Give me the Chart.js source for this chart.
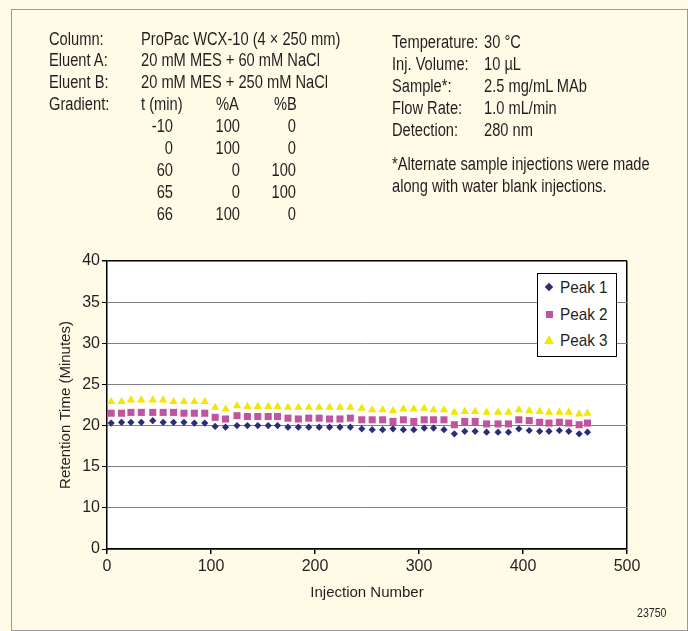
<!DOCTYPE html>
<html>
<head>
<meta charset="utf-8">
<script src="https://cdn.jsdelivr.net/npm/chart.js@4/dist/chart.umd.min.js"></script>
<style>
	body { margin: 0; background: #fffbe6; }
	#page { position: relative; width: 688px; height: 631px; overflow: hidden; font-family: 'Liberation Sans', Arial, sans-serif; color: #231f20; }
	#frame { position: absolute; left: 11px; top: 9px; right: 0; bottom: 0; border: 1px solid #9a9a9a; }
	/* no narrow face installed, so squeeze the text to match the condensed original */
	.t { position: absolute; font-size: 18px; line-height: 22px; white-space: nowrap; transform: scaleX(0.815); transform-origin: left center; }
	.r { text-align: right; transform-origin: right center; }
	canvas { position: absolute; left: 0; top: 0; }
	#legend { position: absolute; left: 537px; top: 273px; width: 78px; height: 82px; border: 1px solid #000; background: #fff; }
	.item { position: absolute; left: 0; font-size: 17px; line-height: 20px; }
	.item span { position: absolute; left: 22px; top: 0; white-space: nowrap; transform: scaleX(0.9); transform-origin: left center; }
	.mk { position: absolute; }
</style>
</head>
<body>
<div id="page">
	<div id="frame"></div>
	<canvas id="chart" width="688" height="631"></canvas>
	<div id="header"></div>
	<div id="legend"></div>
	<div class="t" style="left:637px;top:602px;font-size:13px;">23750</div>
</div>
<script>
// injection number of each measured run
const injection = [4, 14, 23, 33, 44, 54, 64, 74, 84, 94, 104, 114,
	125, 135, 145, 155, 164, 174, 184, 194, 204, 214, 224, 234,
	245, 255, 265, 275, 285, 295, 305, 314, 324, 334, 344, 354,
	365, 376, 386, 396, 406, 416, 425, 435, 444, 454, 462];

// retention times (minutes)
const peak1 = [20.3, 20.4, 20.4, 20.4, 20.6, 20.4, 20.4, 20.4, 20.3, 20.3, 19.9, 19.8,
	20.0, 20.0, 20.0, 20.0, 20.0, 19.8, 19.8, 19.8, 19.8, 19.8, 19.8, 19.8,
	19.6, 19.5, 19.5, 19.6, 19.5, 19.5, 19.7, 19.7, 19.5, 19.0, 19.3, 19.3,
	19.2, 19.2, 19.2, 19.6, 19.4, 19.3, 19.3, 19.4, 19.3, 19.0, 19.2];
const peak2 = [21.5, 21.5, 21.6, 21.6, 21.6, 21.6, 21.6, 21.5, 21.5, 21.5, 21.0, 20.8,
	21.2, 21.1, 21.1, 21.1, 21.1, 20.9, 20.8, 20.9, 20.9, 20.8, 20.8, 20.9,
	20.7, 20.7, 20.7, 20.5, 20.7, 20.5, 20.7, 20.7, 20.7, 20.1, 20.5, 20.5,
	20.2, 20.2, 20.2, 20.7, 20.6, 20.4, 20.3, 20.4, 20.3, 20.1, 20.3];
const peak3 = [22.9, 22.9, 23.1, 23.1, 23.1, 23.1, 22.9, 22.9, 22.9, 22.9, 22.2, 22.0,
	22.4, 22.3, 22.3, 22.3, 22.3, 22.2, 22.2, 22.2, 22.2, 22.2, 22.2, 22.2,
	22.1, 21.9, 21.9, 21.8, 22.0, 22.0, 22.1, 21.9, 21.9, 21.6, 21.7, 21.7,
	21.6, 21.6, 21.6, 21.9, 21.8, 21.7, 21.6, 21.6, 21.6, 21.4, 21.5];

const seriesLabels = [`Peak 1`, `Peak 2`, `Peak 3`];
const seriesColors = [`#2b2d7c`, `#c0559e`, `#f3e600`];

// method conditions
const leftLabels = [`Column:`, `Eluent A:`, `Eluent B:`, `Gradient:`];
const leftValues = [`ProPac WCX-10 (4 × 250 mm)`, `20 mM MES + 60 mM NaCl`, `20 mM MES + 250 mM NaCl`];
const gradTime = [-10, 0, 60, 65, 66];
const gradA = [100, 100, 0, 0, 100];
const gradB = [0, 0, 100, 100, 0];
const rightLabels = [`Temperature:`, `Inj. Volume:`, `Sample*:`, `Flow Rate:`, `Detection:`];
const rightValues = [`30 °C`, `10 µL`, `2.5 mg/mL MAb`, `1.0 mL/min`, `280 nm`];
const footnote = [`*Alternate sample injections were made`, `along with water blank injections.`];

// y axis starts one step up but the bottom tick is labelled 0
const yTickLabels = {5: `0`};

function text(str, left, top, cls = ``, width) {
	const w = width ? `width:${width}px;` : ``;
	return `<div class="t ${cls}" style="left:${left}px;top:${top}px;${w}">${str}</div>`;
}

function makeHeader() {
	let html = ``;
	const rowTop = i => 27.5 + i * 21.9;
	leftLabels.forEach((l, i) => { html += text(l, 49, rowTop(i)); });
	leftValues.forEach((v, i) => { html += text(v, 141, rowTop(i)); });
	html += text(`t (min)`, 141, rowTop(3));
	html += text(`%A`, 216, rowTop(3));
	html += text(`%B`, 274, rowTop(3));
	gradTime.forEach((t, i) => {
		html += text(t, 133, rowTop(4 + i), `r`, 40);
		html += text(gradA[i], 200, rowTop(4 + i), `r`, 40);
		html += text(gradB[i], 256, rowTop(4 + i), `r`, 40);
	});
	rightLabels.forEach((l, i) => { html += text(l, 392, 31 + i * 22.1); });
	rightValues.forEach((v, i) => { html += text(v, 484, 31 + i * 22.1); });
	footnote.forEach((f, i) => { html += text(f, 392, 152.5 + i * 22); });
	document.getElementById(`header`).innerHTML = html;
}

function makeLegend() {
	const markers = [
		c => `<div class="mk" style="left:8px;top:6px;width:6px;height:6px;background:${c};transform:rotate(45deg);"></div>`,
		c => `<div class="mk" style="left:8px;top:6px;width:7px;height:7px;background:${c};"></div>`,
		c => `<div class="mk" style="left:6px;top:4px;width:0;height:0;border-left:5px solid transparent;border-right:5px solid transparent;border-bottom:9px solid ${c};"></div>`
	];
	let html = ``;
	seriesLabels.forEach((l, i) => {
		html += `<div class="item" style="top:${4 + i * 26.5}px;">${markers[i](seriesColors[i])}<span>${l}</span></div>`;
	});
	document.getElementById(`legend`).innerHTML = html;
}

const plotBackground = {
	id: `plotBackground`,
	beforeDraw(chart) {
		const {ctx, chartArea: a} = chart;
		ctx.save();
		ctx.fillStyle = `#fff`;
		ctx.fillRect(a.left, a.top, a.right - a.left, a.bottom - a.top);
		ctx.restore();
	}
};

function initChart() {
	Chart.defaults.font.family = `'Liberation Sans', Arial, sans-serif`;
	Chart.defaults.font.size = 16;
	Chart.defaults.color = `#231f20`;

	const peaks = [peak1, peak2, peak3];
	const styles = [`rectRot`, `rect`, `triangle`];
	const radii = [3.6, 5, 4.8];

	const config = {
		type: `scatter`,
		data: {
			datasets: peaks.map((p, i) => ({
				label: seriesLabels[i],
				data: injection.map((x, j) => ({x: x, y: p[j]})),
				pointStyle: styles[i],
				pointRadius: radii[i],
				backgroundColor: seriesColors[i],
				borderColor: seriesColors[i],
				borderWidth: 0
			}))
		},
		options: {
			responsive: false,
			animation: false,
			layout: {padding: {left: 40, right: 61, top: 261, bottom: 20}},
			scales: {
				x: {
					min: 0,
					max: 500,
					afterFit: s => { s.height = 62; },
					ticks: {stepSize: 100, padding: 3, maxRotation: 0},
					grid: {
						color: c => c.tick && c.tick.value === 500 ? `#000` : `transparent`,
						lineWidth: 1.5,
						tickColor: `#000`,
						tickLength: 5
					},
					border: {color: `#000`, width: 1.5},
					title: {display: true, text: `Injection Number`, font: {size: 15}, padding: {top: 0, bottom: 9}}
				},
				y: {
					min: 5,
					max: 40,
					afterFit: s => { s.width = 67; },
					ticks: {stepSize: 5, padding: 2, callback: v => yTickLabels[v] ?? v},
					grid: {
						color: c => c.tick && c.tick.value === 40 ? `#000` : `#808080`,
						lineWidth: c => c.tick && c.tick.value === 40 ? 1.5 : 1,
						tickColor: `#000`,
						tickLength: 5
					},
					border: {color: `#000`, width: 1.5},
					title: {display: true, text: `Retention Time (Minutes)`, font: {size: 15}, padding: {top: 17, bottom: 0}}
				}
			},
			plugins: {
				legend: {display: false},
				tooltip: {enabled: false}
			}
		},
		plugins: [plotBackground]
	};

	new Chart(document.getElementById(`chart`), config);
}

makeHeader();
makeLegend();
initChart();
</script>
</body>
</html>
